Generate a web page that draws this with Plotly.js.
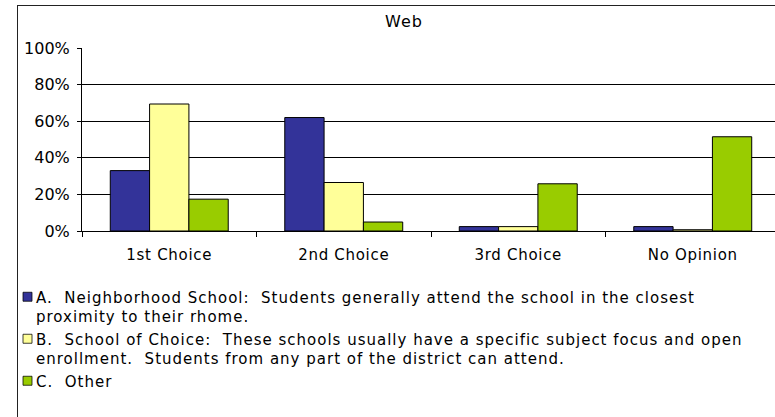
<!DOCTYPE html>
<html>
<head>
<meta charset="utf-8">
<script src="https://cdn.plot.ly/plotly-3.0.1.min.js"></script>
<style>
html,body{margin:0;padding:0;width:775px;height:417px;overflow:hidden;background:#fff;}
#chart{position:absolute;left:0;top:0;width:790px;height:417px;}
#frame{position:absolute;left:17px;top:5px;width:800px;height:420px;border-left:1px solid #222;border-top:1px solid #222;pointer-events:none;}
#chart .legendtext{letter-spacing:1px;transform:translate(-11.5px,0px);}
#chart .legendpoints path{transform:translate(20px,0px) scale(0.75);}
#chart .legend .scrollbox{clip-path:none;}
#chart .xtick text{letter-spacing:0.7px;}
#chart .gtitle{letter-spacing:1px;}
</style>
</head>
<body>
<div id="chart"></div>
<div id="frame"></div>
<script>
const categories = ["1st Choice", "2nd Choice", "3rd Choice", "No Opinion"];
const seriesNames = [
  "A.\u00a0 Neighborhood School:\u00a0 Students generally attend the school in the closest<br>proximity to their rhome.",
  "B.\u00a0 School of Choice:\u00a0 These schools usually have a specific subject focus and open<br>enrollment.\u00a0 Students from any part of the district can attend.",
  "C.\u00a0 Other"
];
const valuesA = [33, 62, 2.4, 2.4];
const valuesB = [69.4, 26.5, 2.4, 0.7];
const valuesC = [17.4, 4.9, 25.8, 51.5];
const colors = ["#333399", "#FFFF99", "#99CC00"];
const yTicks = [0, 20, 40, 60, 80, 100];
const yTickLabels = ["0%", "20%", "40%", "60%", "80%", "100%"];

const font = "DejaVu Sans, Verdana, sans-serif";
const seriesVals = [valuesA, valuesB, valuesC];
const traces = seriesVals.map((v, i) => ({
  type: "bar",
  x: categories,
  y: v,
  name: seriesNames[i],
  marker: {color: colors[i], line: {color: "#000", width: 1}},
  hoverinfo: "skip"
}));

const layout = {
  width: 790, height: 417,
  margin: {l: 82, r: 10, t: 48, b: 186, pad: 0, autoexpand: false},
  paper_bgcolor: "rgba(0,0,0,0)",
  plot_bgcolor: "rgba(0,0,0,0)",
  barmode: "group",
  bargap: 0.324,
  bargroupgap: 0,
  font: {family: font, size: 14, color: "#000"},
  title: {text: "Web", font: {family: font, size: 16, color: "#000"},
          xref: "container", x: 404/790, xanchor: "center",
          yref: "container", y: 1 - 21/417, yanchor: "middle"},
  xaxis: {
    type: "category",
    showline: true, linecolor: "#000", linewidth: 1,
    ticks: "outside", ticklen: 5, tickcolor: "#000", tickson: "boundaries",
    showgrid: false, zeroline: false,
    tickfont: {family: font, size: 15, color: "#000"},
    ticklabelstandoff: 10
  },
  yaxis: {
    range: [0, 100], tickmode: "array", tickvals: yTicks, ticktext: yTickLabels,
    showline: true, linecolor: "#000", linewidth: 1,
    ticks: "outside", ticklen: 4, tickcolor: "#000",
    showgrid: true, gridcolor: "#000", gridwidth: 1,
    zeroline: false,
    tickfont: {family: font, size: 16, color: "#000"},
    ticklabelstandoff: 4
  },
  showlegend: true,
  legend: {
    x: (7.5 - 82) / 698, xanchor: "left",
    y: -(280.5 - 231) / 183, yanchor: "top",
    valign: "top",
    font: {family: font, size: 15, color: "#000"},
    bgcolor: "rgba(0,0,0,0)",
    traceorder: "normal"
  }
};

Plotly.newPlot("chart", traces, layout, {staticPlot: true, displayModeBar: false});
</script>
</body>
</html>
